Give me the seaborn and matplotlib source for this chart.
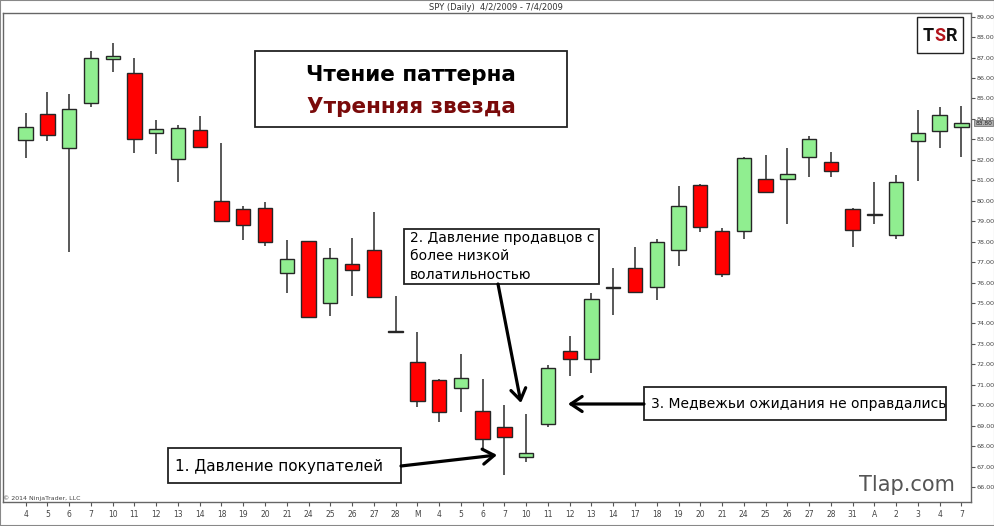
import matplotlib
matplotlib.use("Agg")
import matplotlib.pyplot as plt
from matplotlib.patches import Rectangle, FancyArrowPatch
import seaborn as sns
import pandas as pd
import numpy as np

# Дневные свечи SPY
day_labels = ["4", "5", "6", "7", "10", "11", "12", "13", "14", "18", "19", "20", "21",
              "24", "25", "26", "27", "28", "M", "4", "5", "6", "7", "10", "11", "12",
              "13", "14", "17", "18", "19", "20", "21", "24", "25", "26", "27", "28",
              "31", "A", "2", "3", "4", "7"]
opens = [82.97, 84.22, 82.56, 84.76, 86.91, 86.23, 83.33, 82.02, 83.44, 79.99, 79.59,
         79.63, 76.45, 78.01, 74.98, 76.89, 77.57, 73.65, 72.13, 71.22, 70.83, 69.70,
         68.95, 67.48, 69.07, 72.65, 72.24, 75.75, 76.69, 75.79, 77.57, 80.77, 78.53,
         78.52, 81.06, 81.06, 82.12, 81.91, 79.59, 79.32, 78.32, 82.93, 83.41, 83.62]
highs = [84.27, 85.30, 85.22, 87.31, 87.73, 86.99, 83.95, 83.69, 84.13, 82.84, 79.74,
         79.94, 78.08, 78.05, 77.67, 78.16, 79.46, 75.35, 73.56, 71.27, 72.50, 71.30,
         70.01, 69.55, 71.97, 73.40, 75.47, 76.69, 77.72, 78.13, 80.72, 80.80, 78.65,
         82.15, 82.23, 82.56, 83.16, 82.37, 79.64, 80.90, 81.26, 84.43, 84.58, 84.63]
lows = [82.10, 82.93, 77.51, 84.60, 86.28, 82.32, 82.27, 80.90, 82.64, 78.97, 78.08,
        77.80, 75.47, 74.30, 74.36, 75.34, 75.28, 73.52, 69.93, 69.19, 69.65, 67.78,
        66.59, 67.24, 68.95, 71.44, 71.59, 74.41, 75.52, 75.14, 76.82, 78.48, 76.25,
        78.11, 80.36, 78.85, 81.14, 81.17, 77.75, 78.86, 78.13, 80.98, 82.58, 82.15]
closes = [83.62, 83.23, 84.50, 86.96, 87.09, 83.00, 83.49, 83.56, 82.64, 79.01, 78.81,
          77.97, 77.16, 74.33, 77.21, 76.61, 75.31, 73.60, 70.21, 69.65, 71.33, 68.33,
          68.46, 67.65, 71.80, 72.26, 75.19, 75.80, 75.55, 77.97, 79.74, 78.71, 76.42,
          82.07, 80.41, 81.31, 83.00, 81.45, 78.57, 79.36, 80.90, 83.33, 84.19, 83.80]
price_ticks = list(range(66, 90))

df = pd.DataFrame({"label": day_labels, "open": opens, "high": highs,
                   "low": lows, "close": closes})
df["x"] = np.arange(len(df))
df["bottom"] = df[["open", "close"]].min(axis=1)
df["body"] = (df["close"] - df["open"]).abs().clip(lower=0.04)
df["color"] = np.where(df["close"] >= df["open"], "#90ee90", "#ff0000")

sns.set_theme(style="white")
plt.rcParams["font.family"] = ["DejaVu Sans"]

W, H = 995, 526
fig = plt.figure(figsize=(W / 100, H / 100), dpi=100)
ax = fig.add_axes([3 / W, 1 - 502 / H, (971 - 3) / W, (502 - 13) / H])


def fx(x):
    return x / W


def fy(y):
    return 1 - y / H


# свечи
ax.vlines(df["x"], df["low"], df["high"], color="#3c3c3c", lw=1.2, zorder=1)
ax.bar(df["x"], df["body"], bottom=df["bottom"], width=0.66, color=df["color"],
       edgecolor="#262626", linewidth=1.0, zorder=2)

ax.set_xlim(-1.04, 43.44)
ax.set_ylim(65.27, 89.18)
ax.set_xticks(df["x"])
ax.set_xticklabels(df["label"])
ax.set_yticks(price_ticks)
ax.set_yticklabels([f"{p:.2f}" for p in price_ticks])
ax.yaxis.tick_right()
ax.tick_params(axis="both", which="both", direction="out", length=3, width=0.8,
               color="#555555", labelsize=4.6, labelcolor="#444444", pad=1)
ax.tick_params(axis="x", bottom=True, pad=3, labelsize=5.5)
ax.tick_params(axis="y", right=True, left=False)
for s in ax.spines.values():
    s.set_color("#666666")
    s.set_linewidth(1.0)
ax.grid(False)

# последняя цена
ax.annotate(f"{closes[-1]:.2f}", xy=(1.0, closes[-1]), xycoords=("axes fraction", "data"),
            xytext=(3, 0), textcoords="offset points", fontsize=4.3, color="#222222",
            va="center", ha="left",
            bbox=dict(boxstyle="square,pad=0.15", fc="#b0b0b0", ec="#777777", lw=0.6))

# заголовок и подписи
fig.text(fx(496), fy(7), "SPY (Daily)  4/2/2009 - 7/4/2009", ha="center", va="center",
         fontsize=6, color="#333333")
fig.text(fx(3), fy(498), "© 2014 NinjaTrader, LLC", ha="left", va="center",
         fontsize=4.5, color="#444444")
fig.text(fx(907), fy(485), "Tlap.com", ha="center", va="center", fontsize=15,
         color="#555555")

# рамка рисунка
fig.add_artist(Rectangle((0, 0), 1, 1, transform=fig.transFigure, fill=False,
                         ec="#888888", lw=1.5))


def box(x0, y0, x1, y1, lw=1.3):
    fig.add_artist(Rectangle((fx(x0), fy(y1)), (x1 - x0) / W, (y1 - y0) / H,
                             transform=fig.transFigure, fc="white", ec="#222222",
                             lw=lw, zorder=5))


def arrow(x0, y0, x1, y1):
    fig.add_artist(FancyArrowPatch((fx(x0), fy(y0)), (fx(x1), fy(y1)),
                                   transform=fig.transFigure,
                                   arrowstyle="->,head_length=0.45,head_width=0.3",
                                   mutation_scale=18, lw=2.3, color="black", zorder=6,
                                   shrinkA=0, shrinkB=0))


# главный блок
box(255, 51, 567, 127)
fig.text(fx(411), fy(75), "Чтение паттерна", ha="center", va="center", fontsize=15.5,
         fontweight="bold", color="black", zorder=7)
fig.text(fx(411), fy(107), "Утренняя звезда", ha="center", va="center", fontsize=15.5,
         fontweight="bold", color="#7a0a0a", zorder=7)

# TSR
box(917, 17, 963, 53, lw=1.0)
fig.text(fx(928.5), fy(36), "T", ha="center", va="center", fontsize=13, fontweight="bold",
         family="Roboto", color="#111111", zorder=7)
fig.text(fx(940), fy(36), "S", ha="center", va="center", fontsize=13, fontweight="bold",
         family="Roboto", color="#b3141c", zorder=7)
fig.text(fx(951.5), fy(36), "R", ha="center", va="center", fontsize=13, fontweight="bold",
         family="Roboto", color="#111111", zorder=7)

# 1
box(168, 448, 401, 483)
fig.text(fx(175), fy(466), "1. Давление покупателей", ha="left", va="center",
         fontsize=11, color="black", zorder=7)
arrow(401, 466, 497, 455)

# 2
box(404, 229, 599, 284)
fig.text(fx(410), fy(256.5), "2. Давление продавцов с\nболее низкой\nволатильностью",
         ha="left", va="center", fontsize=10, color="black", linespacing=1.45, zorder=7)
arrow(498, 284, 521, 403)

# 3
box(644, 387, 946, 420)
fig.text(fx(651), fy(404), "3. Медвежьи ожидания не оправдались", ha="left",
         va="center", fontsize=10, color="black", zorder=7)
arrow(644, 404, 568, 404)

fig.savefig("out.png", dpi=100)
